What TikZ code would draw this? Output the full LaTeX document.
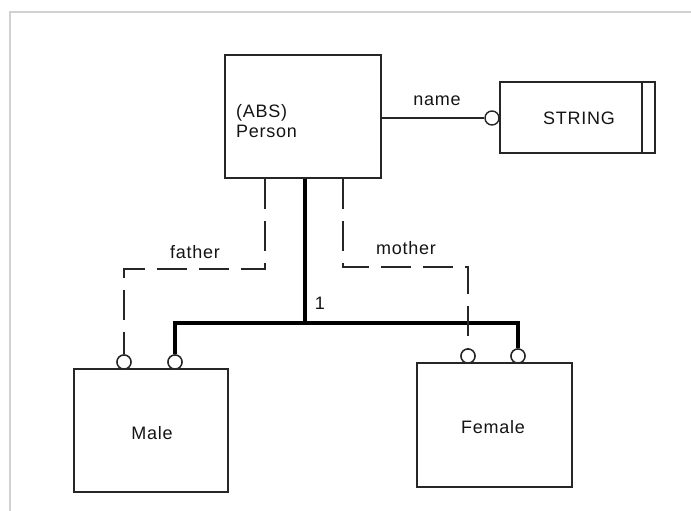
\documentclass[tikz,border=0pt]{standalone}
\usepackage{fontspec}
\setmainfont[LetterSpace=4]{Liberation Sans}
\begin{document}
\begin{tikzpicture}[x=1pt,y=-1pt,
  lbl/.style={inner sep=0pt, font=\fontsize{18}{22}\selectfont, text=black!92},
  ent/.style={draw=black!85, line width=1.6pt, minimum width=#1, inner sep=0pt},
  opt/.style={circle, draw=black!85, line width=1.4pt, fill=white, minimum size=14pt, inner sep=0pt},
  thick rel/.style={draw=black, line width=4.5pt, line join=miter},
  dash rel/.style={draw=black!85, line width=1.6pt, dash pattern=on 30pt off 12pt},
  plain rel/.style={draw=black!85, line width=1.4pt}]
\useasboundingbox (0,0) rectangle (691,511);
% frame
\draw[black!18, line width=1.6pt] (10,511) -- (10,12) -- (691,12);
% entities
\node[ent=156pt, minimum height=123pt] (person) at (303,116.5) {};
\node[lbl, anchor=west] (abs) at (236,113) {(ABS)};
\node[lbl, anchor=west] (pname) at (236,131) {Person};
\node[ent=155pt, minimum height=71pt] (string) at (577.5,117.5) {};
\draw[black!85, line width=1.6pt] (642,82) -- (642,153);
\node[lbl] (stext) at (579,118) {STRING};
\node[ent=154pt, minimum height=123pt] (male) at (151,430.5) {};
\node[lbl] (mtext) at (152,433) {Male};
\node[ent=155pt, minimum height=124pt] (female) at (494.5,425) {};
\node[lbl] (ftext) at (493,427) {Female};
% optional circles
\node[opt] (cname) at (492,118) {};
\node[opt] (cmf) at (124,362) {};
\node[opt] (cmi) at (175,362) {};
\node[opt] (cfm) at (468,356) {};
\node[opt] (cfi) at (518,356) {};
% junction coordinates
\coordinate (jt) at (305,323);
% name relation
\draw[plain rel] (person.east |- cname) -- (cname.west);
\node[lbl] (nlab) at (437,101) {name};
% thick inheritance
\draw[thick rel] (person.south -| jt) -- (jt);
\draw[thick rel] (cmi.north) -- (cmi.north |- jt) -- (cfi.north |- jt) -- (cfi.north);
\node[lbl] (one) at (320,303) {1};
% father
\coordinate (fa) at (265,269);
\draw[dash rel] (person.south -| fa) -- (fa) -- (cmf.north |- fa) -- (cmf.north);
\node[lbl] (flab) at (195,252) {father};
% mother
\coordinate (mo) at (343,267);
\draw[dash rel] (person.south -| mo) -- (mo) -- (cfm.north |- mo) -- (cfm.north);
\node[lbl] (molab) at (406,248) {mother};
% redraw circles on top
\node[opt] at (cmf) {};
\node[opt] at (cmi) {};
\node[opt] at (cfm) {};
\node[opt] at (cfi) {};
\end{tikzpicture}
\end{document}
